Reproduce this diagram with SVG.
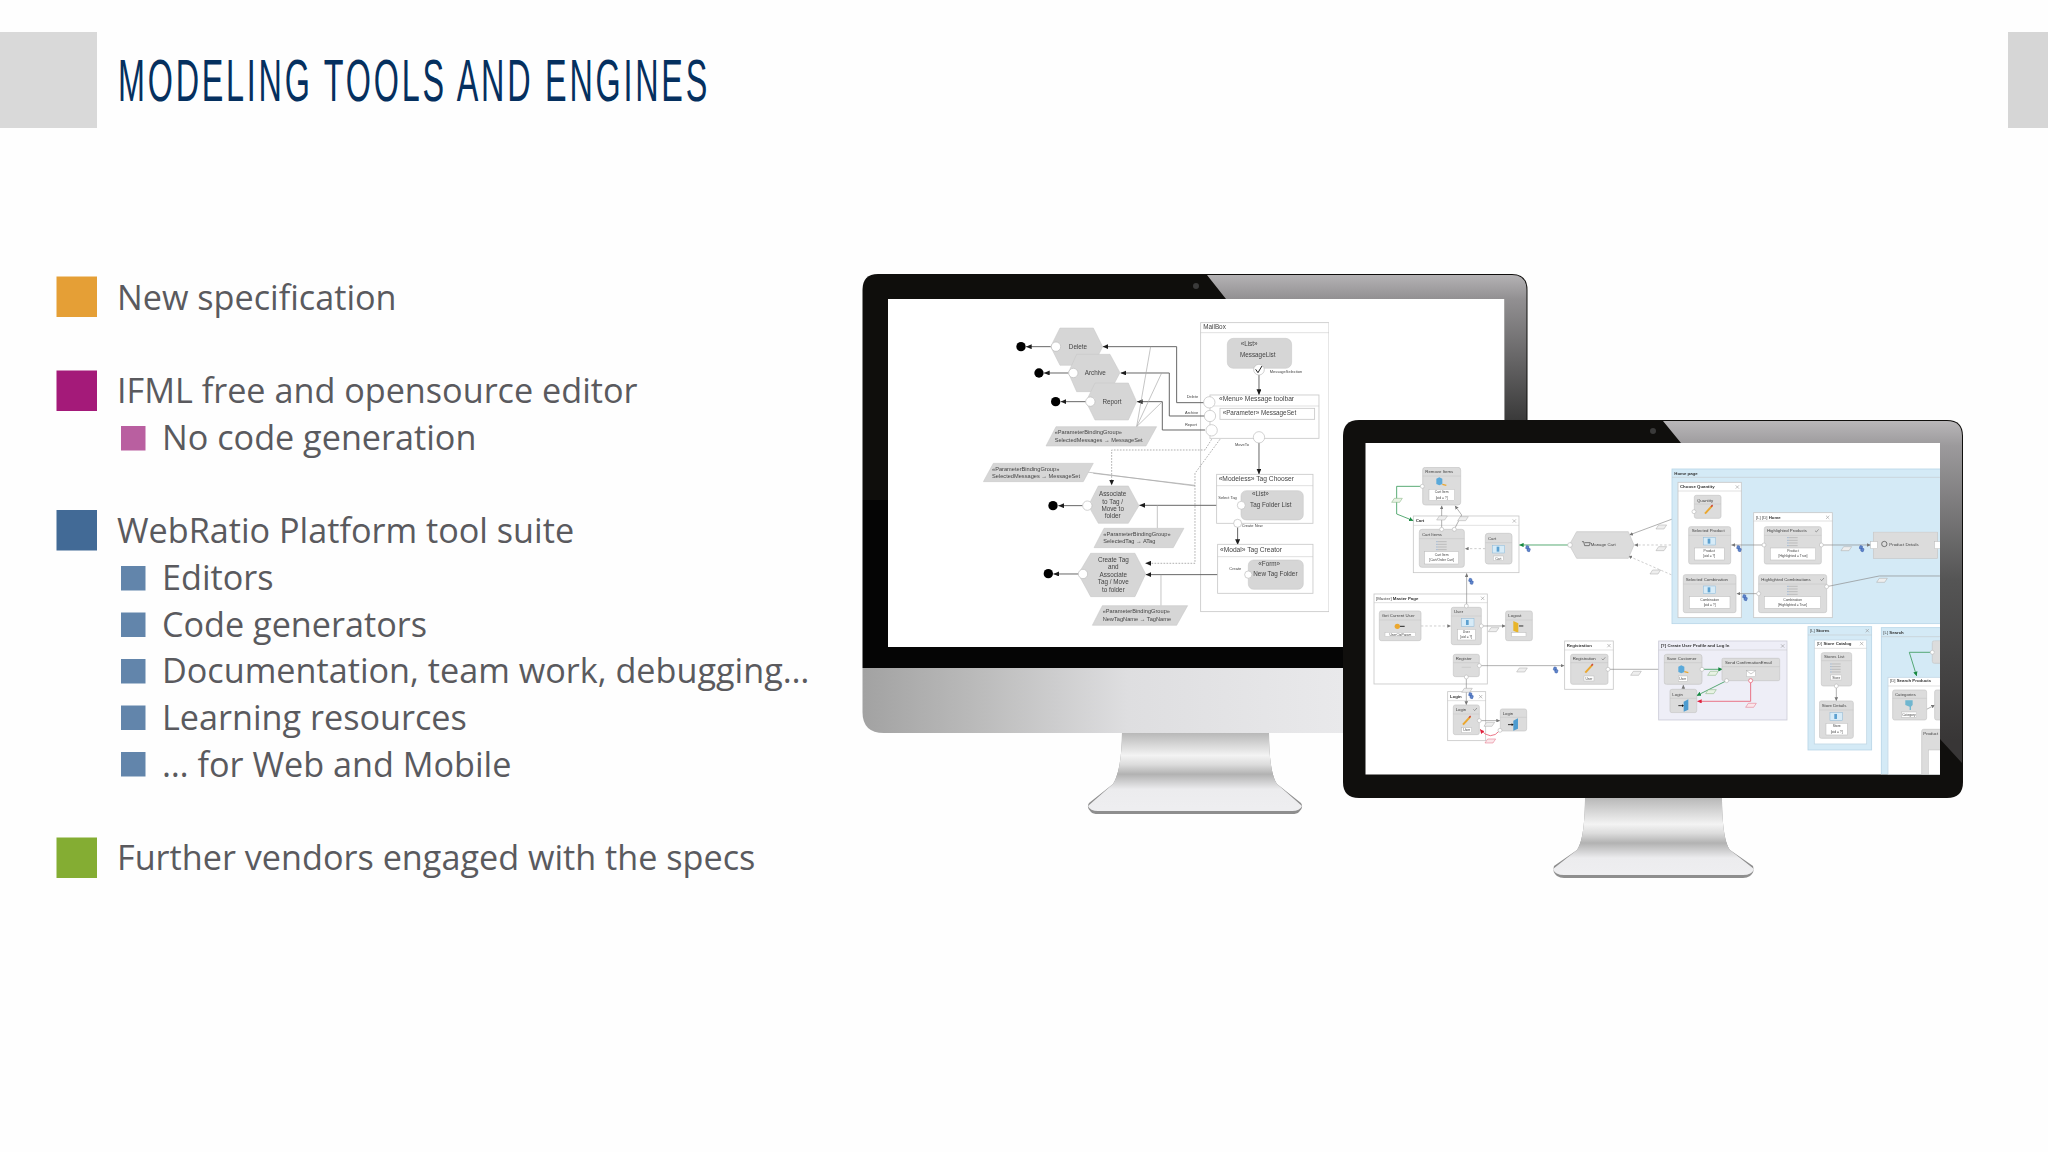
<svg xmlns="http://www.w3.org/2000/svg" width="2048" height="1152" viewBox="0 0 2048 1152">
<style>
.b{font-family:"Open Sans","Noto Sans",sans-serif;font-size:34.2px;fill:#5a5a5e}
.ttl{font-family:"Liberation Sans",Arial,sans-serif;font-size:58.6px;fill:#05305f;letter-spacing:5px}
.l text,.r text{font-family:"Liberation Sans",Arial,sans-serif;fill:#444}
.l text{font-size:19px}
.l .s{font-size:12px}
.l .m{font-size:20px}
.l .p{font-size:17px}
.r text{font-size:13px}
.r .s{font-size:10px;text-anchor:middle}
.r .h{font-weight:bold;fill:#333}
.c{text-anchor:middle}
.hex{fill:#d6d6d6;stroke:#c4c4c4;stroke-width:1.5}
.pg{fill:#d6d6d6;stroke:#c4c4c4;stroke-width:1.5}
.box{fill:#fff;stroke:#c8c8c8;stroke-width:2.5}
.port{fill:#fff;stroke:#bbb;stroke-width:2}
.dot{fill:#060606}
.ln{fill:none;stroke:#666;stroke-width:3}
.thin{fill:none;stroke:#a8a8a8;stroke-width:2}
.dash{fill:none;stroke:#888;stroke-width:2;stroke-dasharray:5 4}
.rn{fill:#dcdcdc;stroke:#c6c6c6;stroke-width:2}
.hd{stroke:#c2c2c2;stroke-width:1.5;fill:none}
.wh{fill:#fff;stroke:#bbb;stroke-width:1.5}
.lue{fill:#d4eaf6;stroke:#b8d6e8;stroke-width:2.5}
.bw{fill:#fff;stroke:#c4d8e6;stroke-width:2.5}
.gc{fill:none;stroke:#8a8a8a;stroke-width:2}
.gd{fill:none;stroke:#b4b4b4;stroke-width:2;stroke-dasharray:7 6}
.gr{fill:none;stroke:#3a9a5a;stroke-width:2.5}
.rd{fill:none;stroke:#e85a70;stroke-width:2.5}
.pa{fill:#eee;stroke:#a8a8a8;stroke-width:1.5}
.pag{fill:#e8f2e4;stroke:#7cae78;stroke-width:1.5}
.par{fill:#fbe6ea;stroke:#e06a80;stroke-width:1.5}
.x{fill:none;stroke:#888;stroke-width:1.5}
</style>
<defs>
<linearGradient id="gl1" gradientUnits="userSpaceOnUse" x1="0" y1="274" x2="0" y2="420"><stop offset="0" stop-color="#b6b4b6"/><stop offset=".17" stop-color="#929092"/><stop offset="1" stop-color="#3a3a3a"/></linearGradient>
<linearGradient id="gl2" gradientUnits="userSpaceOnUse" x1="0" y1="420" x2="0" y2="740"><stop offset="0" stop-color="#bab8ba"/><stop offset=".08" stop-color="#9c9a9c"/><stop offset=".5" stop-color="#555"/><stop offset="1" stop-color="#383636"/></linearGradient>
<linearGradient id="chin" gradientUnits="userSpaceOnUse" x1="863" y1="0" x2="1343" y2="0"><stop offset="0" stop-color="#a2a2a2"/><stop offset=".25" stop-color="#bcbcbc"/><stop offset=".55" stop-color="#dedee0"/><stop offset="1" stop-color="#e9e9eb"/></linearGradient>
<linearGradient id="st1" gradientUnits="userSpaceOnUse" x1="0" y1="733" x2="0" y2="808"><stop offset="0" stop-color="#b8b8b8"/><stop offset=".3" stop-color="#f3f3f3"/><stop offset=".42" stop-color="#dcdcdc"/><stop offset=".55" stop-color="#b2b2b2"/><stop offset=".75" stop-color="#ececee"/><stop offset="1" stop-color="#eeeef0"/></linearGradient>
<linearGradient id="st2" gradientUnits="userSpaceOnUse" x1="0" y1="798" x2="0" y2="873"><stop offset="0" stop-color="#b8b8b8"/><stop offset=".35" stop-color="#f3f3f3"/><stop offset=".47" stop-color="#dcdcdc"/><stop offset=".6" stop-color="#b2b2b2"/><stop offset=".8" stop-color="#ececee"/><stop offset="1" stop-color="#eeeef0"/></linearGradient>
<filter id="soft" x="0" y="0" width="1" height="1" filterUnits="objectBoundingBox"><feGaussianBlur stdDeviation="0.35"/></filter>
<marker id="ad" viewBox="0 0 10 10" refX="10" refY="5" markerWidth="17" markerHeight="15" markerUnits="userSpaceOnUse" orient="auto" preserveAspectRatio="none"><path d="M0 0L10 5L0 10z" fill="#1c1c1c"/></marker>
<marker id="ag" viewBox="0 0 10 10" refX="10" refY="5" markerWidth="11" markerHeight="11" markerUnits="userSpaceOnUse" orient="auto"><path d="M0 0L10 5L0 10z" fill="#777"/></marker>
<marker id="agr" viewBox="0 0 10 10" refX="10" refY="5" markerWidth="13" markerHeight="13" markerUnits="userSpaceOnUse" orient="auto"><path d="M0 0L10 5L0 10z" fill="#15883f"/></marker>
<marker id="ard" viewBox="0 0 10 10" refX="10" refY="5" markerWidth="13" markerHeight="13" markerUnits="userSpaceOnUse" orient="auto"><path d="M0 0L10 5L0 10z" fill="#e0203c"/></marker>
<polygon id="pm" points="0,12 8,0 32,0 24,12"/>
<g id="chain"><rect x="-7" y="-8" width="8" height="10" rx="2" fill="#5f86cc" stroke="#2f55a5" stroke-width="1.5" transform="rotate(15)"/><rect x="-1" y="-2" width="8" height="10" rx="2" fill="#5f86cc" stroke="#2f55a5" stroke-width="1.5" transform="rotate(15)"/></g>
<g id="pencil"><path d="M-11 12L11 -12" stroke="#eba72e" stroke-width="6" fill="none"/><path d="M7 -9L12 -14" stroke="#c44" stroke-width="4"/></g>
<g id="door"><polygon points="0,6 14,-1 14,30 0,36" fill="#4b9bd0"/><path d="M-16 18H-3" stroke="#111" stroke-width="2.5"/><path d="M-5 14L1 18L-5 22z" fill="#111"/></g>
<g id="list"><path d="M4 2H30M4 10H30M4 18H30M4 26H30" stroke="#aaa" stroke-width="2"/><path d="M0 2h2M0 10h2M0 18h2M0 26h2" stroke="#4a7fc0" stroke-width="3"/></g>
<g id="det"><rect x="0" y="0" width="37" height="23" fill="#d7ebf7" stroke="#8ab8d8" stroke-width="1.5"/><rect x="13" y="4" width="8" height="15" fill="#5ba0d0"/></g>
<clipPath id="cz3"><rect x="-10" y="0" width="910" height="1003"/></clipPath>
</defs>
<rect width="2048" height="1152" fill="#fefefe"/>

<g id="header">
<rect x="0" y="32" width="97" height="96" fill="#d9d9d9"/>
<rect x="2008" y="32" width="40" height="96" fill="#d6d6d6"/>
<text class="ttl" x="118" y="101" textLength="592" lengthAdjust="spacingAndGlyphs">MODELING TOOLS AND ENGINES</text>
</g>

<g id="bullets">
<rect x="56.500" y="276.500" width="40.500" height="40.500" fill="#e59f36"/>
<text class="b" x="117" y="310">New specification</text>
<rect x="56.500" y="370.500" width="40.500" height="40.500" fill="#a41a79"/>
<text class="b" x="117" y="403.300">IFML free and opensource editor</text>
<rect x="121" y="426" width="24.500" height="24.500" fill="#b95fa0"/>
<text class="b" x="162" y="450">No code generation</text>
<rect x="56.500" y="510" width="40.500" height="40.500" fill="#426a96"/>
<text class="b" x="117" y="543.300">WebRatio Platform tool suite</text>
<rect x="121" y="566" width="24.500" height="24.500" fill="#6285ab"/>
<text class="b" x="162" y="590">Editors</text>
<rect x="121" y="612.500" width="24.500" height="24.500" fill="#6285ab"/>
<text class="b" x="162" y="636.700">Code generators</text>
<rect x="121" y="659" width="24.500" height="24.500" fill="#6285ab"/>
<text class="b" x="162" y="683.300">Documentation, team work, debugging…</text>
<rect x="121" y="705.500" width="24.500" height="24.500" fill="#6285ab"/>
<text class="b" x="162" y="730">Learning resources</text>
<rect x="121" y="752" width="24.500" height="24.500" fill="#6285ab"/>
<text class="b" x="162" y="776.700">… for Web and Mobile</text>
<rect x="56.500" y="837.500" width="40.500" height="40.500" fill="#84ad33"/>
<text class="b" x="117" y="870">Further vendors engaged with the specs</text>
</g>

<g id="monitor-large">
<path d="M1122 732H1269C1269 755 1271 775 1277 784L1301 803Q1304 808 1299 812Q1297 814 1292 814H1098Q1093 814 1091 812Q1086 808 1089 803L1113 784C1119 775 1122 755 1122 732z" fill="#8e8e8e"/>
<path d="M1122 732H1269C1269 755 1271 775 1277 784L1302 806Q1300 811 1292 811H1098Q1090 811 1088 806L1113 784C1119 775 1122 755 1122 732z" fill="url(#st1)"/>
<path d="M878 274H1512Q1527.500 274 1527.500 290V500H862.500V290Q862.500 274 878 274z" fill="#0f0e0c"/>
<rect x="862.500" y="500" width="665" height="168" fill="#050505"/>
<path d="M862.500 668H1527V733H884Q862.500 733 862.500 712z" fill="url(#chin)"/>
<path d="M1207 275H1512Q1526.500 275 1526.500 290V420H1504.500V299H1226z" fill="url(#gl1)"/>
<rect x="888" y="299" width="616.500" height="348" fill="#fff"/>
<circle cx="1196" cy="286" r="3" fill="#3a3a3a"/>
</g>

<g filter="url(#soft)">
<g class="l" transform="translate(960 300) scale(.3333)">
<g id="l-containers">
<rect class="box" x="722" y="68" width="385" height="867"/><path class="hd" d="M722 98H1107"/>
<text x="730" y="87">MailBox</text>
</g>
<g id="l-connectors">
<path class="ln" d="M735 308H650V140H428" marker-end="url(#ad)"/>
<path class="ln" d="M735 348H628V219H482" marker-end="url(#ad)"/>
<path class="ln" d="M735 390H607V305H531" marker-end="url(#ad)"/>
<path class="thin" d="M530 380L572 140M530 380L605 219M530 380L607 305"/>
<path class="ln" d="M273 140H198" marker-end="url(#ad)"/>
<path class="ln" d="M326 219H252" marker-end="url(#ad)"/>
<path class="ln" d="M378 305H302" marker-end="url(#ad)"/>
<path class="ln" d="M368 617H295" marker-end="url(#ad)"/>
<path class="ln" d="M355 822H280" marker-end="url(#ad)"/>
<path class="ln" d="M844 616H538" marker-end="url(#ad)"/>
<path class="ln" d="M865 824H557" marker-end="url(#ad)"/>
<path class="thin" d="M592 616V685M603 824V917"/>
<path class="thin" d="M380 516L705 558M400 520L705 556"/>
<path class="dash" d="M755 418L735 450H455V556" marker-end="url(#ad)"/>
<path class="dash" d="M780 418L705 520V790H556" marker-end="url(#ad)"/>
<path class="ln" d="M897 225V285" marker-end="url(#ad)"/>
<path class="ln" d="M897 428V523" marker-end="url(#ad)"/>
<path class="ln" d="M833 682V735" marker-end="url(#ad)"/>
</g>
<g id="l-delete"><polygon class="hex" points="272,140 300,84 400,84 428,140 400,196 300,196"/><text class="c" x="354" y="146">Delete</text><circle class="port" cx="288" cy="140" r="14"/><circle class="dot" cx="183" cy="140" r="14"/></g>
<g id="l-archive"><polygon class="hex" points="325,218 350,163 450,163 480,218 450,275 350,275"/><text class="c" x="406" y="224">Archive</text><circle class="port" cx="340" cy="219" r="14"/><circle class="dot" cx="237" cy="219" r="14"/></g>
<g id="l-report"><polygon class="hex" points="378,305 405,249 505,249 530,305 505,360 405,360"/><text class="c" x="456" y="311">Report</text><circle class="port" cx="391" cy="305" r="14"/><circle class="dot" cx="287" cy="305" r="14"/></g>
<g id="l-pbg1"><polygon class="pg" points="258,438 288,380 590,380 558,438"/><text class="p" x="284" y="403">«ParameterBindingGroup»</text><text class="p" x="284" y="427">SelectedMessages → MessageSet</text></g>
<g id="l-pbg2"><polygon class="pg" points="70,545 100,490 400,490 370,545"/><text class="p" x="96" y="512">«ParameterBindingGroup»</text><text class="p" x="96" y="533">SelectedMessages → MessageSet</text></g>
<g id="l-associate"><polygon class="hex" points="385,617 415,558 505,558 537,617 505,670 415,670"/><text class="c" x="458" y="587">Associate</text><text class="c" x="458" y="611">to Tag /</text><text class="c" x="458" y="634">Move to</text><text class="c" x="458" y="655">folder</text><circle class="port" cx="382" cy="617" r="14"/><circle class="dot" cx="279" cy="617" r="14"/></g>
<g id="l-pbg3"><polygon class="pg" points="402,743 432,685 672,685 640,743"/><text class="p" x="430" y="708">«ParameterBindingGroup»</text><text class="p" x="430" y="730">SelectedTag → ATag</text></g>
<g id="l-create"><polygon class="hex" points="355,822 392,760 525,760 557,822 525,890 392,890"/><text class="c" x="460" y="785">Create Tag</text><text class="c" x="460" y="808">and</text><text class="c" x="460" y="831">Associate</text><text class="c" x="460" y="853">Tag / Move</text><text class="c" x="460" y="876">to folder</text><circle class="port" cx="369" cy="822" r="14"/><circle class="dot" cx="265" cy="821" r="14"/></g>
<g id="l-pbg4"><polygon class="pg" points="397,976 427,917 683,917 650,976"/><text class="p" x="428" y="940">«ParameterBindingGroup»</text><text class="p" x="428" y="963">NewTagName → TagName</text></g>
<g id="l-messagelist"><rect class="hex" x="802" y="115" width="193" height="90" rx="18"/><text x="842" y="139">«List»</text><text x="840" y="170">MessageList</text><circle class="port" cx="897" cy="209" r="16"/><path d="M887 208L894 218L906 198" fill="none" stroke="#222" stroke-width="3"/><text class="s" x="929" y="218">MessageSelection</text></g>
<g id="l-toolbar"><rect class="box" x="750" y="285" width="327" height="130"/><path class="hd" d="M750 318H1077"/><text class="m" x="777" y="303">«Menu» Message toolbar</text><rect class="box" x="780" y="325" width="284" height="33"/><text x="788" y="346">«Parameter» MessageSet</text><circle class="port" cx="748" cy="307" r="17"/><circle class="port" cx="750" cy="348" r="17"/><circle class="port" cx="755" cy="391" r="17"/><circle class="port" cx="897" cy="412" r="17"/><text class="s" x="680" y="295">Delete</text><text class="s" x="675" y="342">Archive</text><text class="s" x="675" y="378">Report</text><text class="s" x="825" y="438">MoveTo</text></g>
<g id="l-tagchooser"><rect class="box" x="770" y="523" width="289" height="147"/><path class="hd" d="M770 557H1059"/><text class="m" x="776" y="544">«Modeless» Tag Chooser</text><rect class="hex" x="843" y="572" width="187" height="88" rx="16"/><text x="876" y="588">«List»</text><text x="870" y="622">Tag Folder List</text><circle class="port" cx="844" cy="616" r="12"/><text class="s" x="775" y="598">Select Tag</text><circle class="port" cx="833" cy="670" r="12"/><text class="s" x="845" y="682">Create New</text></g>
<g id="l-tagcreator"><rect class="box" x="773" y="733" width="286" height="147"/><path class="hd" d="M773 770H1059"/><text class="m" x="780" y="757">«Modal» Tag Creator</text><rect class="hex" x="865" y="780" width="165" height="88" rx="16"/><text x="895" y="798">«Form»</text><text x="880" y="828">New Tag Folder</text><circle class="port" cx="865" cy="824" r="11"/><text class="s" x="808" y="811">Create</text></g>
</g>
</g>

<g id="monitor-small">
<path d="M1585 797H1722C1722 820 1724 842 1730 850L1753 866Q1755 872 1750 876Q1747 878 1743 878H1564Q1560 878 1557 876Q1552 872 1554 866L1577 850C1583 842 1585 820 1585 797z" fill="#8e8e8e"/>
<path d="M1585 797H1722C1722 820 1724 842 1730 850L1754 869Q1752 875 1743 875H1564Q1555 875 1553 869L1577 850C1583 842 1585 820 1585 797z" fill="url(#st2)"/>
<path d="M1359 420H1947Q1963 420 1963 436V782Q1963 798 1947 798H1359Q1343 798 1343 782V436Q1343 420 1359 420z" fill="#100f0d"/>
<path d="M1663 421H1947Q1962 421 1962 436V763L1940 739V443H1681z" fill="url(#gl2)"/>
<rect x="1365.500" y="443" width="574.500" height="331.500" fill="#fff"/>
<circle cx="1653" cy="431" r="3" fill="#3a3a3a"/>
</g>

<g filter="url(#soft)">
<g class="r" transform="translate(1360 440) scale(.3333)">
<g id="r-containers-a">
<rect class="box" x="160" y="228" width="317" height="170"/><path class="hd" d="M160 256H477"/><text class="h" x="167" y="247">Cart</text><path class="x" d="M458 238l10 10m0-10l-10 10"/>
<rect class="box" x="42" y="462" width="340" height="270"/><path class="hd" d="M42 488H382"/><text x="48" y="479">[Master] <tspan font-weight="bold" fill="#333">Master Page</tspan></text><path class="x" d="M363 470l10 10m0-10l-10 10"/>
<rect class="box" x="263" y="755" width="114" height="147"/><path class="hd" d="M263 782H377"/><text class="h" x="270" y="773">Login</text><path class="x" d="M357 765l10 10m0-10l-10 10"/>
<rect class="box" x="614" y="603" width="146" height="145"/><path class="hd" d="M614 630H760"/><text class="h" x="620" y="622">Registration</text><path class="x" d="M742 612l10 10m0-10l-10 10"/>
</g>
<g id="r-connectors-a">
<path class="gr" d="M187 139H110V222L160 242" marker-end="url(#agr)"/>
<path class="gc" d="M245 268V197" marker-end="url(#ag)"/>
<path class="gc" d="M283 268L305 225L285 197" marker-end="url(#ag)"/>
<path class="gd" d="M376 326H315" marker-end="url(#ag)"/>
<path class="gr" d="M630 315H478" marker-end="url(#agr)"/>
<path class="gc" d="M1002 213L808 285" marker-end="url(#ag)"/>
<path class="gd" d="M985 315H823" marker-end="url(#ag)"/>
<path class="gd" d="M970 420L805 348" marker-end="url(#ag)"/>
<path class="gc" d="M320 495V400" marker-end="url(#ag)"/>
<path class="gd" d="M183 558H273" marker-end="url(#ag)"/>
<path class="gc" d="M364 558H437" marker-end="url(#ag)"/>
<path class="gc" d="M358 677H613" marker-end="url(#ag)"/>
<path class="gc" d="M319 711V795" marker-end="url(#ag)"/>
<path class="gc" d="M358 842H420" marker-end="url(#ag)"/>
<path class="rd" d="M420 871Q392 905 360 868" marker-end="url(#ard)"/>
<path class="gc" d="M744 688H912" marker-end="url(#ag)"/>
<use href="#pm" x="95" y="175" class="pag"/><use href="#pm" x="230" y="228" class="pa"/><use href="#pm" x="293" y="230" class="pa"/><use href="#pm" x="888" y="255" class="pa"/><use href="#pm" x="888" y="320" class="pa"/><use href="#pm" x="870" y="390" class="pa"/><use href="#pm" x="385" y="563" class="pa"/><use href="#pm" x="470" y="684" class="pa"/><use href="#pm" x="305" y="745" class="pa"/><use href="#pm" x="375" y="897" class="par"/><use href="#pm" x="372" y="847" class="pa"/><use href="#pm" x="812" y="694" class="pa"/>
<use href="#chain" x="504" y="326"/><use href="#chain" x="333" y="424"/><use href="#chain" x="587" y="690"/><use href="#chain" x="333" y="767"/>
</g>
<g id="r-remove"><rect class="rn" x="188" y="82" width="114" height="113" rx="8"/><path class="hd" d="M188 108H302"/><text x="196" y="99">Remove Items</text><path d="M229 116l9-4 9 4v16l-9 4-9-4z" fill="#5aa9da"/><path d="M247 133l12 3" stroke="#eba72e" stroke-width="4"/><rect class="wh" x="207" y="148" width="77" height="34"/><text class="s" x="245" y="160">Cart Item</text><text class="s" x="245" y="176">[oid = ?]</text><circle class="port" cx="187" cy="139" r="6"/></g>
<g id="r-cartitems"><rect class="rn" x="178" y="268" width="135" height="114" rx="8"/><path class="hd" d="M178 296H313"/><text x="186" y="287">Cart Items</text><use href="#list" x="230" y="303"/><rect class="wh" x="194" y="335" width="102" height="37"/><text class="s" x="245" y="347">Cart Item</text><text class="s" x="245" y="363">[Cart/Order Cart]</text><circle class="port" cx="245" cy="268" r="6"/><circle class="port" cx="283" cy="268" r="6"/></g>
<g id="r-cart"><rect class="rn" x="376" y="280" width="80" height="92" rx="8"/><path class="hd" d="M376 308H456"/><text x="384" y="299">Cart</text><use href="#det" x="397" y="316"/><rect class="wh" x="400" y="348" width="30" height="14"/><text class="s" x="415" y="359">Cart</text></g>
<g id="r-managecart"><polygon class="rn" points="628,315 650,275 805,275 822,315 805,355 650,355"/><path d="M666 305h5l3 12h14l3-9h-17" fill="none" stroke="#333" stroke-width="1.800"/><text x="692" y="318">Manage Cart</text><circle class="port" cx="630" cy="315" r="7"/></g>
<g id="r-currentuser"><rect class="rn" x="58" y="513" width="125" height="89" rx="6"/><path class="hd" d="M58 540H183"/><text x="65" y="530">Get Current User</text><circle cx="112" cy="559" r="8" fill="#eba72e"/><path d="M120 559h14" stroke="#222" stroke-width="3"/><rect class="wh" x="75" y="577" width="92" height="13"/><text class="s" x="121" y="587">UserCtxParam</text></g>
<g id="r-user"><rect class="rn" x="274" y="502" width="90" height="112" rx="6"/><path class="hd" d="M274 528H364"/><text x="282" y="519">User</text><use href="#det" x="305" y="536"/><rect class="wh" x="293" y="568" width="53" height="32"/><text class="s" x="319" y="580">User</text><text class="s" x="319" y="595">[oid = ?]</text><circle class="port" cx="364" cy="558" r="6"/><circle class="port" cx="319" cy="498" r="6"/></g>
<g id="r-logout"><rect class="rn" x="437" y="513" width="80" height="89" rx="6"/><path class="hd" d="M437 540H517"/><text x="445" y="530">Logout</text><polygon points="460,543 475,550 475,578 460,572" fill="#e8b52a"/><path d="M477 558h13" stroke="#111" stroke-width="2.500"/><rect class="wh" x="455" y="578" width="43" height="12"/></g>
<g id="r-register"><rect class="rn" x="280" y="643" width="78" height="67" rx="6"/><path class="hd" d="M280 668H358"/><text x="287" y="661">Register</text><path d="M305 682h28" stroke="#bbb" stroke-width="1.500"/><circle class="port" cx="358" cy="677" r="6"/><circle class="port" cx="319" cy="711" r="6"/></g>
<g id="r-loginform"><rect class="rn" x="280" y="795" width="78" height="89" rx="6"/><path class="hd" d="M280 822H358"/><text x="287" y="813">Login</text><path d="M340 808l4 4 7-8" fill="none" stroke="#555" stroke-width="1.500"/><use href="#pencil" x="320" y="842"/><rect class="wh" x="305" y="863" width="30" height="15"/><text class="s" x="320" y="874">User</text><circle class="port" cx="358" cy="842" r="6"/></g>
<g id="r-login"><rect class="rn" x="421" y="807" width="79" height="66" rx="6"/><path class="hd" d="M421 832H500"/><text x="428" y="825">Login</text><use href="#door" x="460" y="836"/><circle class="port" cx="420" cy="871" r="6"/></g>
<g id="r-regform"><rect class="rn" x="632" y="643" width="112" height="90" rx="6"/><path class="hd" d="M632 668H744"/><text x="638" y="661">Registration</text><path d="M725 656l4 4 7-8" fill="none" stroke="#555" stroke-width="1.500"/><use href="#pencil" x="687" y="686"/><rect class="wh" x="672" y="708" width="30" height="15"/><text class="s" x="687" y="719">User</text><circle class="port" cx="744" cy="688" r="6"/></g>
</g>
<g class="r" transform="translate(1640 440) scale(.3333)" clip-path="url(#cz3)">
<g id="r-containers-b">
<rect class="lue" x="96" y="87" width="900" height="464"/><path class="hd" d="M96 112H900"/><text class="h" x="103" y="106">Home page</text>
<rect class="box" x="114" y="127" width="190" height="406"/><path class="hd" d="M114 153H304"/><text class="h" x="120" y="145">Choose Quantity</text><path class="x" d="M287 136l10 10m0-10l-10 10"/>
<rect class="box" x="341" y="218" width="236" height="315"/><path class="hd" d="M341 243H577"/><text x="348" y="236">[L] [D] <tspan font-weight="bold" fill="#333">Home</tspan></text><path class="x" d="M558 227l10 10m0-10l-10 10"/>
<rect x="56" y="603" width="385" height="237" fill="#eeeef7" stroke="#ccccd8" stroke-width="2.500"/><path class="hd" d="M56 630H441"/><text class="h" x="62" y="621">[?] Create User Profile and Log In</text><path class="x" d="M423 613l10 10m0-10l-10 10"/>
<rect class="lue" x="504" y="560" width="191" height="370"/><path class="hd" d="M504 585H695"/><text x="510" y="576">[L] <tspan font-weight="bold" fill="#333">Stores</tspan></text><path class="x" d="M677 567l10 10m0-10l-10 10"/>
<rect class="bw" x="523" y="600" width="157" height="312"/><path class="hd" d="M523 625H680"/><text x="530" y="616">[D] <tspan font-weight="bold" fill="#333">Store Catalog</tspan></text><path class="x" d="M660 606l10 10m0-10l-10 10"/>
<rect class="lue" x="724" y="563" width="300" height="460"/><path class="hd" d="M724 590H900"/><text x="730" y="581">[L] <tspan font-weight="bold" fill="#333">Search</tspan></text>
<rect class="bw" x="744" y="712" width="300" height="310"/><path class="hd" d="M744 738H900"/><text x="750" y="727">[D] <tspan font-weight="bold" fill="#333">Search Products</tspan></text>
</g>
<g id="r-connectors-b">
<path class="gc" d="M372 315H274" marker-end="url(#ag)"/>
<path class="gc" d="M356 461H290" marker-end="url(#ag)"/>
<path class="gc" d="M544 315H692" marker-end="url(#ag)"/>
<path class="gc" d="M560 440L718 408H900"/>
<path class="gr" d="M186 688H248" marker-end="url(#agr)"/>
<path class="gr" d="M260 722L170 767" marker-end="url(#agr)"/>
<path class="rd" d="M332 722V784H172" marker-end="url(#ard)"/>
<path class="gc" d="M130 748V735" marker-end="url(#ag)"/>
<path class="gc" d="M589 738V783" marker-end="url(#ag)"/>
<path class="gr" d="M877 637H808L830 708" marker-end="url(#agr)"/>
<path class="gc" d="M860 808L885 795" marker-end="url(#ag)"/>
<use href="#pm" x="603" y="320" class="pa"/><use href="#pm" x="710" y="415" class="pa"/><use href="#pm" x="203" y="694" class="pag"/><use href="#pm" x="197" y="749" class="pag"/><use href="#pm" x="317" y="790" class="par"/>
<use href="#chain" x="297" y="326"/><use href="#chain" x="315" y="473"/><use href="#chain" x="665" y="326"/>
</g>
<g id="r-quantity"><rect class="rn" x="163" y="166" width="80" height="69" rx="6"/><path class="hd" d="M163 192H243"/><text x="171" y="185">Quantity</text><use href="#pencil" x="206" y="209"/><circle class="port" cx="162" cy="215" r="6"/></g>
<g id="r-selproduct"><rect class="rn" x="146" y="260" width="126" height="112" rx="6"/><path class="hd" d="M146 286H272"/><text x="155" y="276">Selected Product</text><use href="#det" x="190" y="292"/><rect class="wh" x="164" y="324" width="89" height="36"/><text class="s" x="208" y="336">Product</text><text class="s" x="208" y="352">[oid = ?]</text></g>
<g id="r-selcomb"><rect class="rn" x="130" y="404" width="158" height="114" rx="6"/><path class="hd" d="M130 432H288"/><text x="137" y="422">Selected Combination</text><use href="#det" x="190" y="438"/><rect class="wh" x="148" y="470" width="122" height="35"/><text class="s" x="209" y="482">Combination</text><text class="s" x="209" y="498">[oid = ?]</text></g>
<g id="r-hlproducts"><rect class="rn" x="373" y="260" width="171" height="112" rx="6"/><path class="hd" d="M373 286H544"/><text x="381" y="276">Highlighted Products</text><path d="M525 272l4 4 7-8" fill="none" stroke="#555" stroke-width="1.500"/><use href="#list" x="443" y="291"/><rect class="wh" x="391" y="324" width="136" height="36"/><text class="s" x="459" y="336">Product</text><text class="s" x="459" y="352">[Highlighted = True]</text><circle class="port" cx="372" cy="315" r="6"/><circle class="port" cx="544" cy="315" r="6"/></g>
<g id="r-hlcomb"><rect class="rn" x="356" y="404" width="204" height="114" rx="6"/><path class="hd" d="M356 432H560"/><text x="364" y="422">Highlighted Combinations</text><path d="M541 418l4 4 7-8" fill="none" stroke="#555" stroke-width="1.500"/><use href="#list" x="443" y="437"/><rect class="wh" x="373" y="470" width="169" height="35"/><text class="s" x="458" y="482">Combination</text><text class="s" x="458" y="498">[Highlighted = True]</text><circle class="port" cx="356" cy="461" r="6"/><circle class="port" cx="560" cy="440" r="6"/></g>
<g id="r-productdetails"><rect class="rn" x="700" y="276" width="193" height="79"/><circle cx="733" cy="312" r="8" fill="none" stroke="#444" stroke-width="2"/><text x="748" y="317">Product Details</text><rect class="wh" x="692" y="305" width="20" height="21"/><rect class="wh" x="884" y="305" width="20" height="21"/></g>
<g id="r-savecustomer"><rect class="rn" x="72" y="643" width="114" height="90" rx="8"/><path class="hd" d="M72 668H186"/><text x="80" y="661">Save Customer</text><path d="M115 680l9-4 9 4v16l-9 4-9-4z" fill="#5aa9da"/><path d="M133 695l12 3" stroke="#eba72e" stroke-width="4"/><rect class="wh" x="115" y="708" width="27" height="16"/><text class="s" x="128" y="720">User</text><circle class="port" cx="186" cy="688" r="6"/></g>
<g id="r-sendmail"><rect class="rn" x="246" y="655" width="173" height="67" rx="4"/><path class="hd" d="M246 680H419"/><text x="255" y="671">Send ConfirmationEmail</text><rect class="wh" x="320" y="692" width="26" height="18"/><path d="M320 692l13 10 13-10" fill="none" stroke="#888" stroke-width="1.300"/><circle class="port" cx="260" cy="722" r="6"/><circle class="port" cx="332" cy="722" r="6" style="stroke:#e85a70"/></g>
<g id="r-login2"><rect class="rn" x="90" y="748" width="80" height="70" rx="6"/><path class="hd" d="M90 775H170"/><text x="97" y="768">Login</text><use href="#door" x="131" y="779"/></g>
<g id="r-storeslist"><rect class="rn" x="544" y="638" width="91" height="100" rx="6"/><path class="hd" d="M544 662H635"/><text x="552" y="655">Stores List</text><use href="#list" x="572" y="670"/><rect class="wh" x="572" y="705" width="33" height="15"/><text class="s" x="589" y="716">Store</text><circle class="port" cx="589" cy="738" r="6"/></g>
<g id="r-storedetails"><rect class="rn" x="538" y="783" width="102" height="112" rx="6"/><path class="hd" d="M538 810H640"/><text x="545" y="802">Store Details</text><use href="#det" x="570" y="818"/><rect class="wh" x="558" y="850" width="64" height="35"/><text class="s" x="590" y="862">Store</text><text class="s" x="590" y="878">[oid = ?]</text></g>
<g id="r-searchnode"><rect class="rn" x="877" y="602" width="60" height="68" rx="6"/><circle class="port" cx="877" cy="637" r="6"/></g>
<g id="r-categories"><rect class="rn" x="758" y="750" width="102" height="90" rx="6"/><path class="hd" d="M758 775H860"/><text x="765" y="768">Categories</text><path d="M796 781h22v14l-5 5v10h-4v-10l-13-5z" fill="#6fb6cf"/><rect class="wh" x="785" y="816" width="45" height="16"/><text class="s" x="807" y="828">Category</text></g>
<g id="r-next"><rect class="rn" x="884" y="750" width="60" height="90" rx="6"/></g>
<g id="r-product"><rect class="rn" x="845" y="868" width="100" height="170" rx="6"/><text x="850" y="885">Product</text><rect class="wh" x="865" y="930" width="80" height="80"/></g>
</g>
</g>
</svg>
